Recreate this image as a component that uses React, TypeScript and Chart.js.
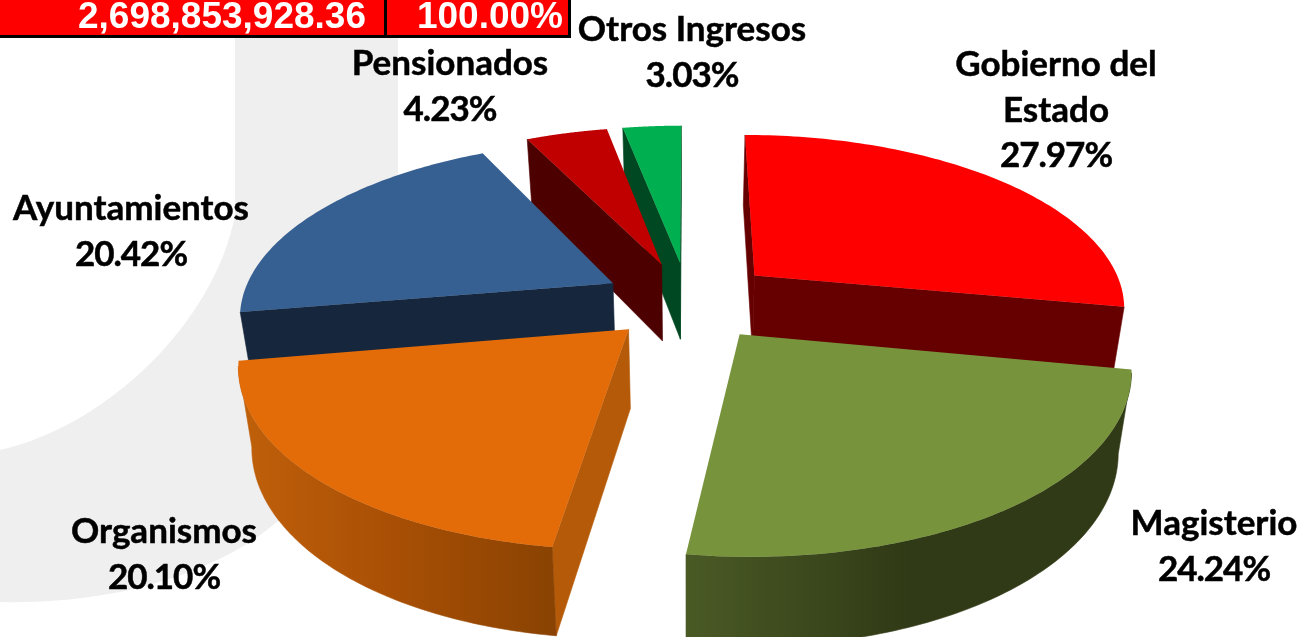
import { useEffect, useRef } from "react";
import { Chart, registerables } from "chart.js";

Chart.register(...registerables);

const categories = ["Gobierno del\nEstado", "Magisterio", "Organismos", "Ayuntamientos", "Pensionados", "Otros Ingresos"];
const percentages = [27.97, 24.24, 20.1, 20.42, 4.23, 3.03];
const totalAmount = "2,698,853,928.36";
const totalPercent = "100.00%";

const topColors = ["#ff0000", "#77933c", "#e36c09", "#376092", "#c00000", "#00b050"];
const sideColors = ["#660000", "#2f3a16", "#b55a08", "#15263d", "#4d0000", "#004821"];
const wallStops: (string[] | null)[] = [null, ["#4a5a25", "#303a16", "#303a16"], ["#c0600a", "#a84f05", "#8a4302"], null, null, null];
const sliceOffsets = [64, 62, 60, 62, 62, 62];
const labelCentres = [[1056, 65], [1214, 524], [164, 532], [131, 209], [450, 64], [692, 30]];

const DISC_RADIUS = 372;
const PERSPECTIVE = 2200;
const TILT = 0.463;
const WALL = 78;
const WALL_SHRINK = 0.97;
const LABEL_FONT = "bold 35px Lato";
const LINE = 45.5;

function project(arc: any, angle: number, r: number) {
  const S = DISC_RADIUS / arc.outerRadius;
  const mid = (arc.startAngle + arc.endAngle) / 2;
  const off = arc.options.offset;
  const X = (r * Math.cos(angle) + off * Math.cos(mid)) * S;
  const Y = (r * Math.sin(angle) + off * Math.sin(mid)) * S;
  const w = 1 - Y / PERSPECTIVE;
  return { x: arc.x + X / w, y: arc.y + (TILT * Y) / w, w };
}

function wallOf(arc: any, p: { x: number; y: number; w: number }) {
  return { x: arc.x + (p.x - arc.x) * WALL_SHRINK, y: p.y + WALL * Math.pow(1 / p.w, 0.6) };
}

function drawSlice(ctx: CanvasRenderingContext2D, arc: any, index: number) {
  const steps = 90;
  const rim: any[] = [];
  for (let i = 0; i <= steps; i++) {
    rim.push(project(arc, arc.startAngle + ((arc.endAngle - arc.startAngle) * i) / steps, arc.outerRadius));
  }
  const apex = project(arc, arc.startAngle, 0);
  const wall = (path: any[], fill: any) => {
    const lower = path.map((p) => wallOf(arc, p)).reverse();
    ctx.beginPath();
    [...path, ...lower].forEach((p, i) => (i ? ctx.lineTo(p.x, p.y) : ctx.moveTo(p.x, p.y)));
    ctx.closePath();
    ctx.fillStyle = fill;
    ctx.strokeStyle = fill;
    ctx.lineWidth = 0.6;
    ctx.fill();
    ctx.stroke();
  };
  const xs = rim.map((p) => p.x);
  let wallFill: any = sideColors[index];
  const stops = wallStops[index];
  if (stops) {
    const g = ctx.createLinearGradient(Math.min(...xs), 0, Math.max(...xs), 0);
    stops.forEach((c, i) => g.addColorStop(i / (stops.length - 1), c));
    wallFill = g;
  }
  // radial faces, then the visible run of the outer rim
  if (rim[0].x < apex.x) wall([apex, rim[0]], sideColors[index]);
  if (apex.x < rim[steps].x) wall([rim[steps], apex], sideColors[index]);
  let run: any[] = [];
  for (let i = 0; i < steps; i++) {
    if (rim[i + 1].x < rim[i].x) {
      if (!run.length) run.push(rim[i]);
      run.push(rim[i + 1]);
    } else if (run.length) {
      wall(run, wallFill);
      run = [];
    }
  }
  if (run.length) wall(run, wallFill);
  ctx.beginPath();
  [apex, ...rim].forEach((p, i) => (i ? ctx.lineTo(p.x, p.y) : ctx.moveTo(p.x, p.y)));
  ctx.closePath();
  ctx.fillStyle = arc.options.backgroundColor;
  ctx.fill();
}

const perspectivePie = {
  id: "perspectivePie",
  beforeDraw(chart: any) {
    const ctx = chart.ctx;
    ctx.save();
    ctx.fillStyle = "#efefef";
    ctx.beginPath();
    ctx.moveTo(235, 0);
    ctx.lineTo(235, 215);
    ctx.bezierCurveTo(215, 320, 110, 425, 0, 450);
    ctx.lineTo(0, 602);
    ctx.bezierCurveTo(120, 605, 230, 570, 290, 510);
    ctx.bezierCurveTo(360, 450, 398, 340, 398, 240);
    ctx.lineTo(398, 0);
    ctx.closePath();
    ctx.fill();
    ctx.restore();
  },
  beforeDatasetDraw(chart: any) {
    const ctx = chart.ctx;
    const arcs = chart.getDatasetMeta(0).data.map((arc: any, index: number) => ({ arc, index }));
    arcs.sort((a: any, b: any) => project(a.arc, 0, 0).y - project(b.arc, 0, 0).y);
    ctx.save();
    arcs.forEach(({ arc, index }: any) => drawSlice(ctx, arc, index));
    ctx.restore();
    return false;
  },
  afterDraw(chart: any) {
    const ctx = chart.ctx;
    ctx.save();
    ctx.fillStyle = "#ff0000";
    ctx.fillRect(0, 0, 569, 36);
    ctx.fillStyle = "#000000";
    ctx.fillRect(0, 35, 571, 3);
    ctx.fillRect(384, 0, 3, 36);
    ctx.fillRect(568, 0, 3, 38);
    ctx.fillStyle = "#ffffff";
    ctx.font = "bold 37px 'Liberation Sans'";
    ctx.textAlign = "right";
    ctx.textBaseline = "alphabetic";
    ctx.fillText(totalAmount, 366, 28);
    ctx.fillText(totalPercent, 563, 28);
    ctx.fillStyle = "#000000";
    ctx.strokeStyle = "#000000";
    ctx.lineWidth = 0.5;
    ctx.font = LABEL_FONT;
    ctx.textAlign = "center";
    ctx.textBaseline = "middle";
    categories.forEach((label, i) => {
      const names = label.split("\n");
      const lines = [...names, percentages[i].toFixed(2) + "%"];
      lines.forEach((line, j) => {
        (ctx as any).letterSpacing = j === names.length ? "-1px" : "0px";
        const y = labelCentres[i][1] + j * LINE;
        ctx.fillText(line, labelCentres[i][0], y);
        ctx.strokeText(line, labelCentres[i][0], y);
      });
    });
    ctx.restore();
  },
};

export default function App() {
  const ref = useRef<HTMLCanvasElement>(null);
  useEffect(() => {
    document.body.style.margin = "0";
    document.body.style.background = "#ffffff";
    const chart = new Chart(ref.current!, {
      type: "pie",
      data: {
        labels: categories,
        datasets: [{ data: percentages, backgroundColor: topColors, offset: sliceOffsets, borderWidth: 0 }],
      },
      options: {
        animation: false,
        responsive: false,
        layout: { padding: { left: 75, bottom: 35 } },
        plugins: { legend: { display: false }, tooltip: { enabled: false } },
      },
      plugins: [perspectivePie],
    } as any);
    return () => chart.destroy();
  }, []);
  return <canvas ref={ref} width={1301} height={637} style={{ display: "block" }} />;
}
